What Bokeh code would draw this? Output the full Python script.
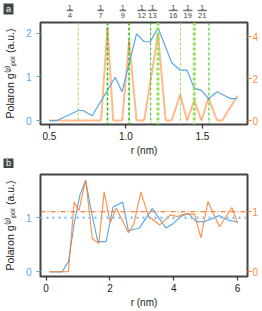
import math
from bokeh.plotting import figure
from bokeh.layouts import column, row
from bokeh.models import Range1d, LinearAxis, FixedTicker, Span, NumeralTickFormatter
from bokeh.core.properties import value
from bokeh.embed import file_html
from bokeh.resources import INLINE

# ---------------- data: panel a ----------------
a_blue_r = [0.50, 0.55, 0.69, 0.72, 0.78, 0.93, 0.975, 1.07, 1.12, 1.16, 1.21, 1.30,
            1.355, 1.40, 1.447, 1.494, 1.54, 1.596, 1.686, 1.73]
a_blue_g = [0.00, 0.00, 0.23, 0.23, 0.11, 0.99, 0.66, 1.98, 1.80, 1.80, 2.12, 1.32,
            1.15, 1.15, 0.74, 0.69, 0.50, 0.66, 0.50, 0.50]
a_orange_r = [0.50, 0.838, 0.88, 0.917, 0.976, 1.021, 1.07, 1.12, 1.21, 1.26, 1.30,
              1.355, 1.40, 1.447, 1.494, 1.54, 1.596, 1.63, 1.73]
a_orange_g = [0.0, 0.0, 4.44, 0.0, 0.0, 3.80, 0.0, 0.0, 4.13, 0.0, 0.0,
              1.24, 0.0, 0.95, 0.0, 1.08, 0.0, 0.0, 1.19]
shell_r = [0.688, 0.880, 1.021, 1.162, 1.210, 1.357, 1.447, 1.543]
shell_label_r = [0.656, 0.853, 0.996, 1.117, 1.186, 1.319, 1.412, 1.505]
shell_num = ["1", "1", "1", "1", "1", "1", "1", "1"]
shell_den = ["4", "7", "9", "12", "13", "16", "19", "21"]

# ---------------- data: panel b ----------------
b_blue_r = [0.10, 0.50, 0.70, 0.90, 1.06, 1.24, 1.41, 1.62, 1.88, 2.10, 2.40, 2.58,
            2.92, 3.33, 3.54, 3.76, 4.00, 4.20, 4.45, 4.71, 4.97, 5.43, 5.69, 6.00]
b_blue_g = [0.00, 0.00, 0.19, 0.96, 1.42, 1.69, 1.14, 0.56, 0.56, 1.20, 1.29, 0.76,
            0.81, 1.17, 0.99, 0.81, 0.90, 1.02, 1.08, 0.93, 0.93, 1.04, 0.96, 0.92]
b_orange_r = [0.10, 0.70, 0.88, 1.03, 1.24, 1.45, 1.65, 1.82, 2.01, 2.20, 2.58, 2.75,
              2.97, 3.20, 3.56, 3.90, 4.10, 4.31, 4.65, 4.85, 5.07, 5.43, 5.82, 6.00]
b_orange_g = [0.00, 0.00, 1.16, 1.02, 1.53, 0.55, 0.47, 1.33, 0.82, 1.06, 0.65, 0.80,
              1.33, 0.93, 0.78, 0.95, 0.92, 0.96, 0.96, 0.57, 1.17, 0.75, 1.07, 0.81]

YLABEL = "Polaron g\u207d\u00b2\u207e\u209a\u2092\u2097 (a.u.)"

# ---------------- styles / layout ----------------
BLUE = "#5aa6e6"
ORANGE = "#ff7f2a"
ORANGE_TXT = "#ff8a3d"
LIGHTG = "#93e05e"
DARKG = "#2cc410"
FRAME = "#444444"
TAGC = "#3e4949"
FONT = "Liberation Sans"
shell_color = [LIGHTG, DARKG, DARKG, DARKG, LIGHTG, LIGHTG, LIGHTG, DARKG]
shell_width = [1.0, 1.6, 1.6, 1.0, 3.0, 1.0, 3.0, 1.0]

W = 262
MB_L, MB_R, MB_T = 36, 15, 2
FW = W - MB_L - MB_R


def blank_fig(w, h, xr, yr):
    f = figure(width=w, height=h, x_range=Range1d(*xr), y_range=Range1d(*yr),
               min_border=0, min_border_left=0, min_border_right=0,
               min_border_top=0, min_border_bottom=0,
               x_axis_type=None, y_axis_type=None,
               output_backend="svg", toolbar_location=None, tools="")
    f.grid.visible = False
    f.outline_line_color = None
    f.background_fill_color = "white"
    return f


def make_main(fh, mb_b, xr, yl, yr, xt, ylt, yrt, xfmt):
    h = MB_T + fh + mb_b
    p = figure(width=W, height=h, min_border_left=MB_L, min_border_right=MB_R,
               min_border_top=MB_T, min_border_bottom=mb_b,
               x_range=Range1d(*xr), y_range=Range1d(*yl),
               output_backend="svg", toolbar_location=None, tools="")
    p.extra_y_ranges = {"right": Range1d(*yr)}
    p.add_layout(LinearAxis(y_range_name="right"), "right")
    p.grid.visible = False
    p.outline_line_color = FRAME
    p.outline_line_width = 2
    for ax in p.axis:
        ax.axis_line_color = None
        ax.minor_tick_line_color = None
        ax.major_tick_in = 0
        ax.major_tick_out = 4
        ax.major_tick_line_width = 1.2
        ax.major_label_text_font = FONT
        ax.major_label_text_font_size = "10px"
        ax.axis_label_text_font = FONT
        ax.axis_label_text_font_style = "normal"
        ax.axis_label_text_color = "#222222"
    xa = p.xaxis[0]
    xa.ticker = FixedTicker(ticks=xt)
    xa.formatter = NumeralTickFormatter(format=xfmt)
    xa.major_label_standoff = 3
    xa.axis_label = "r (nm)"
    xa.axis_label_standoff = 2
    xa.axis_label_text_font_size = "10px"
    xa.major_tick_line_color = "#333333"
    xa.major_label_text_color = "#222222"
    la = p.yaxis[0]
    la.ticker = FixedTicker(ticks=ylt)
    la.major_label_standoff = 5
    la.major_tick_line_color = BLUE
    la.major_label_text_color = BLUE
    la.axis_label = YLABEL
    la.axis_label_standoff = 7
    la.axis_label_text_font_size = "10.5px"
    ra = p.yaxis[1]
    ra.ticker = FixedTicker(ticks=yrt)
    ra.major_label_standoff = 1
    ra.major_tick_line_color = ORANGE
    ra.major_label_text_color = ORANGE_TXT
    return p, h


def tag(f, x, y, w, h, txt):
    f.rect(x=[x], y=[y], width=w, height=h, fill_color=TAGC, line_color=None)
    f.text(x=[x], y=[y], text=[txt], text_align="center", text_baseline="middle",
           text_font=value(FONT), text_font_size="9px", text_color="white")


# ---------------- panel a ----------------
XA = (0.442, 1.795)
FHA, MBB_A = 102, 34
pa, HA = make_main(FHA, MBB_A, XA, (-0.09, 2.24), (-0.19, 4.67),
                   [0.5, 1.0, 1.5], [0, 1, 2], [0, 2, 4], "0.0")
for r, c, w in zip(shell_r, shell_color, shell_width):
    pa.add_layout(Span(location=r, dimension="height", line_color=c, line_width=w,
                       line_dash="3 2"))
pa.segment(x0=a_orange_r[:-1], y0=a_orange_g[:-1], x1=a_orange_r[1:], y1=a_orange_g[1:],
           line_color=ORANGE, line_width=2, line_alpha=0.55, y_range_name="right")
pa.line(a_blue_r, a_blue_g, line_color=BLUE, line_width=1.2)

# header with fractions, in the same r scale as panel a
k = FW / (XA[1] - XA[0])          # px per nm
HH_A = 20
hx0 = XA[0] - MB_L / k
ha = blank_fig(W, HH_A, (hx0, hx0 + W / k), (0, HH_A))
ha.text(x=shell_label_r, y=[13.4] * len(shell_r), text=shell_num, text_align="center",
        text_baseline="middle", text_font=value(FONT), text_font_size="7.5px",
        text_color="#444444")
ha.text(x=shell_label_r, y=[5.4] * len(shell_r), text=shell_den, text_align="center",
        text_baseline="middle", text_font=value(FONT), text_font_size="7.5px",
        text_color="#444444")
half = [(3.3 if len(d) == 1 else 4.6) / k for d in shell_den]
ha.segment(x0=[r - h for r, h in zip(shell_label_r, half)], y0=[10] * len(shell_r),
           x1=[r + h for r, h in zip(shell_label_r, half)], y1=[10] * len(shell_r),
           line_color="#7a7a7a", line_width=1.6)
tag(ha, hx0 + 8 / k, 11.5, 10 / k, 11, "a")

# ---------------- panel b ----------------
FHB, MBB_B = 103, 33
pb, HB = make_main(FHB, MBB_B, (-0.175, 6.31), (-0.085, 1.80), (-0.078, 1.62),
                   [0, 2, 4, 6], [0, 1], [0, 1], "0")
pb.add_layout(Span(location=1, dimension="width", line_color="#8ec1ee", line_width=2.5,
                   line_dash="dotted"))
pb.add_layout(Span(location=1, dimension="width", line_color="#ee6414", line_width=1,
                   line_dash="5 2 1 2", y_range_name="right"))
pb.line(b_blue_r, b_blue_g, line_color=BLUE, line_width=1.1)
pb.line(b_orange_r, b_orange_g, line_color=ORANGE, line_width=1.1, line_alpha=0.9,
        y_range_name="right")
HH_B = 14
hb = blank_fig(W, HH_B, (0, W), (0, HH_B))
tag(hb, 8, 9.5, 10, 10, "b")

layout = column(ha, row(pa, spacing=0), hb, row(pb, spacing=0), spacing=0)
open("out.html", "w").write(file_html(layout, INLINE))
